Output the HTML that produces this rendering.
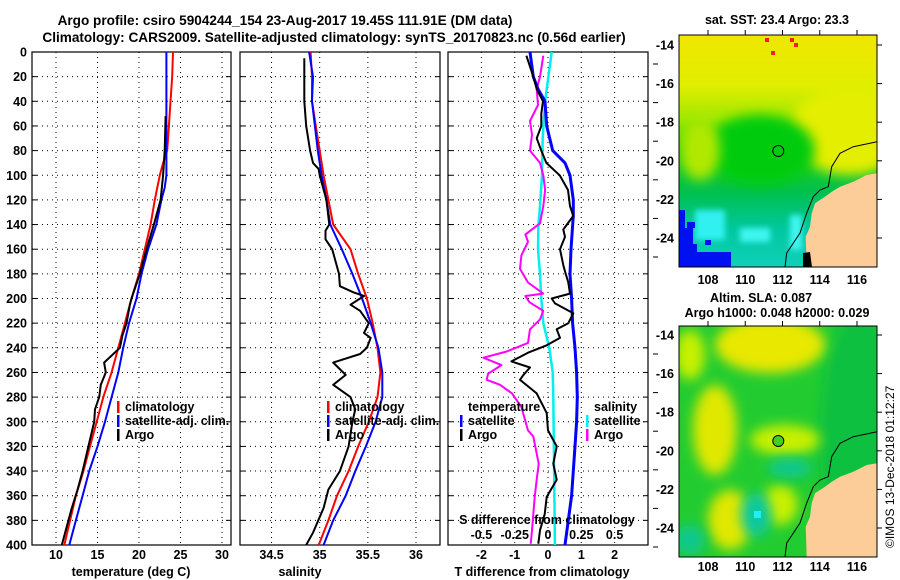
<!DOCTYPE html>
<html><head><meta charset="utf-8"><style>
html,body{margin:0;padding:0;background:#fff;}
svg{display:block;font-family:"Liberation Sans",sans-serif;font-weight:bold;}
</style></head><body>
<svg id="c" width="900" height="580" viewBox="0 0 900 580" xmlns="http://www.w3.org/2000/svg">
<defs>
<linearGradient id="sstg" x1="0" y1="0" x2="0" y2="1">
<stop offset="0" stop-color="#f0e600"/><stop offset="0.22" stop-color="#e0ee00"/><stop offset="0.36" stop-color="#a0e800"/><stop offset="0.5" stop-color="#20d010"/><stop offset="0.68" stop-color="#00c050"/><stop offset="0.84" stop-color="#00c8a0"/><stop offset="1" stop-color="#10d0b8"/>
</linearGradient>
<filter id="bl" x="-50%" y="-50%" width="200%" height="200%"><feGaussianBlur stdDeviation="6"/></filter>
<filter id="bl2" x="-50%" y="-50%" width="200%" height="200%"><feGaussianBlur stdDeviation="3"/></filter>
<clipPath id="m1c"><rect x="679" y="35" width="198" height="232"/></clipPath>
<clipPath id="m2c"><rect x="679" y="326" width="198" height="231"/></clipPath>
</defs>
<text x="285" y="25" text-anchor="middle" font-size="13.6">Argo profile: csiro 5904244_154 23-Aug-2017 19.45S 111.91E (DM data)</text>
<text x="334" y="42" text-anchor="middle" font-size="13.6">Climatology: CARS2009. Satellite-adjusted climatology: synTS_20170823.nc (0.56d earlier)</text>

<!-- Map 1 SST -->
<g clip-path="url(#m1c)">
<rect x="679" y="35" width="198" height="232" fill="url(#sstg)"/>
<ellipse cx="850" cy="130" rx="60" ry="45" fill="#e4ee00" filter="url(#bl)"/>
<ellipse cx="760" cy="150" rx="55" ry="35" fill="#00cc10" filter="url(#bl)"/>
<ellipse cx="700" cy="150" rx="20" ry="30" fill="#b0e800" filter="url(#bl)"/>
<rect x="695" y="210" width="30" height="30" fill="#30f0f0" filter="url(#bl2)"/>
<rect x="740" y="228" width="30" height="14" fill="#40f4f0" filter="url(#bl2)"/>
<rect x="790" y="215" width="12" height="35" fill="#40f4f0" filter="url(#bl2)"/>
<rect x="679" y="244" width="18" height="23" fill="#0010f0"/>
<rect x="697" y="252" width="34" height="15" fill="#0010f0"/>
<rect x="679" y="228" width="14" height="16" fill="#0010f0"/>
<rect x="679" y="210" width="6" height="18" fill="#0010f0"/>
<rect x="687" y="222" width="8" height="6" fill="#0010f0"/>
<rect x="705" y="240" width="6" height="5" fill="#0010f0"/>
<rect x="765" y="38" width="4" height="4" fill="#f02020"/>
<rect x="790" y="38" width="4" height="4" fill="#f02020"/>
<rect x="794" y="43" width="4" height="4" fill="#f02020"/>
<rect x="771" y="51" width="4" height="4" fill="#f02020"/>
</g>
<!-- Map 2 SLA -->
<g clip-path="url(#m2c)">
<rect x="679" y="326" width="198" height="231" fill="#22cc30"/>
<ellipse cx="860" cy="440" rx="40" ry="130" fill="#10c040" filter="url(#bl)"/>
<ellipse cx="770" cy="345" rx="55" ry="28" fill="#e8e800" filter="url(#bl)"/>
<ellipse cx="715" cy="430" rx="22" ry="45" fill="#e0e800" filter="url(#bl)"/>
<ellipse cx="690" cy="355" rx="15" ry="25" fill="#c8f000" filter="url(#bl)"/>
<ellipse cx="785" cy="440" rx="35" ry="15" fill="#c8f000" filter="url(#bl)"/>
<ellipse cx="730" cy="520" rx="22" ry="30" fill="#e0e800" filter="url(#bl)"/>
<ellipse cx="780" cy="505" rx="18" ry="20" fill="#c8f000" filter="url(#bl)"/>
<ellipse cx="756" cy="515" rx="15" ry="22" fill="#10c8a0" filter="url(#bl)"/>
<rect x="754" y="511" width="7" height="7" fill="#20f0f0"/>
<ellipse cx="790" cy="468" rx="22" ry="10" fill="#10c890" filter="url(#bl)"/>
<ellipse cx="690" cy="540" rx="15" ry="15" fill="#10c890" filter="url(#bl)"/>
</g>
<g id="land1">
<polygon points="806.7,267 805.7,236.7 810,226.7 811.7,213.3 815,203.3 825,196.7 831.7,191.7 840,186.7 853.3,181.7 866.7,175 877,173.3 877,267" fill="#fccc99"/>
<polygon points="803,267 803,253 810,252 812,267" fill="#000"/>
<polyline points="785,267 786.7,253 800,233 806.7,213 813.3,196.7 820,190 828.3,186.7 831.7,166.7 840,153.3 853.3,146.7 877,141.7" fill="none" stroke="#000" stroke-width="1"/>
</g>
<g transform="translate(0,290)">
<polygon points="806.7,267 805.7,236.7 810,226.7 811.7,213.3 815,203.3 825,196.7 831.7,191.7 840,186.7 853.3,181.7 866.7,175 877,173.3 877,267" fill="#fccc99"/>
<polyline points="785,267 786.7,253 800,233 806.7,213 813.3,196.7 820,190 828.3,186.7 831.7,166.7 840,153.3 853.3,146.7 877,141.7" fill="none" stroke="#000" stroke-width="1"/>
</g>
<rect x="679" y="35" width="198" height="232" fill="none" stroke="#000"/>
<rect x="679" y="326" width="198" height="231" fill="none" stroke="#000"/>
<circle cx="778.3" cy="151" r="5.5" fill="none" stroke="#000"/>
<circle cx="778.3" cy="441" r="5.5" fill="#40d020" stroke="#000"/>
<text x="777" y="24" text-anchor="middle" font-size="12.5">sat. SST: 23.4 Argo: 23.3</text>
<text x="761" y="302" text-anchor="middle" font-size="12.5">Altim. SLA: 0.087</text>
<text x="777" y="317" text-anchor="middle" font-size="12.5">Argo h1000: 0.048 h2000: 0.029</text>
<text transform="translate(894,548) rotate(-90)" font-size="12" font-weight="normal">©IMOS 13-Dec-2018 01:12:27</text>
<g id="plots"></g>
</svg>
<script>
// ---------- data ----------
const depthTicks = [0,20,40,60,80,100,120,140,160,180,200,220,240,260,280,300,320,340,360,380,400];
const tempTicks = [10,15,20,25,30];
const salTicks = [34.5,35,35.5,36];
const salTickLabels = ['34.5','35','35.5','36'];
const tdiffTicks = [-2,-1,0,1,2];
const sdiffTicks = [-0.5,-0.25,0,0.25,0.5];
const sdiffTickLabels = ['-0.5','-0.25','0','0.25','0.5'];

const climTempDepth = [0,20,40,60,80,90,100,120,140,160,180,200,220,240,260,280,300,320,340,360,380,400];
const climTemp =      [24.1,24.0,23.8,23.6,23.4,22.9,22.5,21.9,21.4,20.7,20.0,19.1,18.3,17.5,16.7,15.7,14.9,14.1,13.3,12.4,11.7,11.0];
const satTempDepth = [0,60,100,110,120,140,160,180,200,220,240,260,280,300,320,340,360,380,400];
const satTemp =      [23.3,23.3,23.3,23.1,22.7,22.1,21.1,20.3,19.7,18.8,18.1,17.5,16.7,15.9,15.0,14.0,13.2,12.4,11.6];
const argoTempDepth = [52,80,100,120,140,160,180,200,205,220,230,240,245,252,260,270,280,290,300,320,340,355,370,390,400];
const argoTemp =      [23.2,23.1,22.9,22.6,21.8,20.9,20.1,19.1,18.9,18.5,18.0,17.7,16.9,15.8,16.0,15.4,15.2,14.7,14.6,13.9,13.2,12.6,11.9,11.1,10.7];

const climSalDepth = [0,20,40,60,80,100,120,140,160,180,200,220,240,260,280,300,320,340,360,380,400];
const climSal =      [34.905,34.92,34.92,34.96,35.0,35.04,35.09,35.14,35.32,35.4,35.49,35.55,35.6,35.63,35.6,35.51,35.4,35.3,35.18,35.09,34.99];
const satSalDepth = [0,20,40,60,80,100,120,140,160,180,200,220,240,260,280,300,320,340,360,380,400];
const satSal =      [34.89,34.93,34.92,34.95,34.98,35.02,35.07,35.11,35.23,35.34,35.44,35.53,35.61,35.65,35.65,35.58,35.48,35.37,35.27,35.14,35.04];
const argoSalDepth = [5,40,60,80,90,95,100,120,140,145,152,160,180,190,195,198,205,210,220,228,232,240,245,252,262,270,280,290,300,320,340,355,370,390,400];
const argoSal =      [34.84,34.84,34.86,34.9,34.93,34.99,35.0,35.07,35.1,35.06,35.06,35.13,35.2,35.21,35.35,35.46,35.32,35.42,35.51,35.46,35.53,35.49,35.42,35.14,35.27,35.14,35.32,35.37,35.34,35.3,35.21,35.09,35.04,34.93,34.86];

const satTdiffDepth = [0,20,30,40,60,80,90,100,120,133,160,180,200,220,240,260,280,300,320,360,380,400];
const satTdiff =      [-0.54,-0.44,-0.3,-0.09,-0.04,0.14,0.51,0.66,0.76,0.76,0.69,0.66,0.71,0.74,0.81,0.86,0.88,0.86,0.81,0.71,0.61,0.51];
const argoTdiffDepth = [3,20,30,40,50,60,70,80,90,100,112,125,133,144,150,160,173,178,187,196,200,204,212,220,225,232,238,244,251,256,262,266,277,293,307,320,334,347,361,375,388,399];
const argoTdiff =      [-0.65,-0.44,-0.34,-0.15,-0.2,-0.2,-0.34,-0.2,-0.05,0.35,0.6,0.66,0.76,0.46,0.51,0.36,0.46,0.51,0.61,0.66,0.11,0.21,0.76,0.61,0.26,0.36,-0.04,-0.6,-1.1,-0.54,-0.74,-0.84,-0.34,-0.04,0.0,0.26,0.16,0.26,-0.04,-0.1,-0.24,-0.29];
const argoSdiffDepth = [3,20,30,43,56,67,80,90,100,112,125,139,148,154,165,176,187,196,198,203,210,217,225,236,243,248,254,261,266,270,277,288,307,312,334,347,361,375,388,399];
const argoSdiff =      [-0.035,-0.06,-0.085,-0.075,-0.135,-0.12,-0.135,-0.06,-0.035,-0.022,-0.035,-0.06,-0.17,-0.15,-0.2,-0.21,-0.15,-0.035,-0.17,-0.14,-0.035,-0.06,-0.135,-0.15,-0.31,-0.485,-0.35,-0.45,-0.46,-0.36,-0.27,-0.2,-0.15,-0.11,-0.07,-0.085,-0.1,-0.11,-0.12,-0.13];
const satSdiffDepth = [0,20,40,70,100,125,141,160,180,200,220,240,260,280,330,400];
const satSdiff =      [0.028,0.003,-0.022,-0.04,-0.045,-0.06,-0.072,-0.075,-0.06,-0.05,-0.035,0.01,0.035,0.04,0.045,0.052];

// ---------- drawing ----------
const NS='http://www.w3.org/2000/svg';
const root=document.getElementById('plots');
function mk(tag,attrs,parent){const e=document.createElementNS(NS,tag);for(const k in attrs)e.setAttribute(k,attrs[k]);(parent||root).appendChild(e);return e;}
const Y0=52,Y1=545;
const yS=d=>Y0+(d/400)*(Y1-Y0);
function lin(d0,d1,r0,r1){return v=>r0+(v-d0)/(d1-d0)*(r1-r0);}
const panels=[
 {name:'temperature-panel',x0:32,x1:231,x:lin(10,30,56,222),ticks:tempTicks,labels:tempTicks.map(String),xlabel:'temperature (deg C)',lx:131},
 {name:'salinity-panel',x0:240,x1:440,x:lin(35,36,319.7,416),ticks:salTicks,labels:salTickLabels,xlabel:'salinity',lx:300},
 {name:'difference-panel',x0:448,x1:648,x:lin(0,1,548,581.3),ticks:tdiffTicks,labels:tdiffTicks.map(String),xlabel:'T difference from climatology',lx:542}
];
panels.forEach(p=>{
 const g=mk('g',{});
 
 
 depthTicks.forEach(d=>{
  if(d>0&&d<400){const l=mk('line',{x1:p.x0,x2:p.x1,y1:yS(d),y2:yS(d),stroke:'#000','stroke-width':1,'stroke-dasharray':'1,4'},g);
   
   mk('line',{x1:p.x0,x2:p.x0+5,y1:yS(d),y2:yS(d),stroke:'#000'},g);
   mk('line',{x1:p.x1-5,x2:p.x1,y1:yS(d),y2:yS(d),stroke:'#000'},g);}
 });
 p.ticks.forEach((t,i)=>{
  const xx=p.x(t);
  const l=mk('line',{x1:xx,x2:xx,y1:Y0,y2:Y1,stroke:'#000','stroke-width':1,'stroke-dasharray':'1,4'},g);
  
  const tx=mk('text',{x:xx,y:559,'text-anchor':'middle','font-size':12.5},g);tx.textContent=p.labels[i];
  
 });
 const r=mk('rect',{x:p.x0,y:Y0,width:p.x1-p.x0,height:Y1-Y0,fill:'none',stroke:'#000','stroke-width':1.2},g);
 
 const xl=mk('text',{x:p.lx,y:576,'text-anchor':'middle','font-size':12.5},g);xl.textContent=p.xlabel;
 
 p.g=g;
});
depthTicks.forEach(d=>{
 const t=mk('text',{x:27,y:yS(d)+4.5,'text-anchor':'end','font-size':12.5});t.textContent=String(d);
 
});
function series(p,xs,ds,color,w,name,xf){
 const fx=xf||p.x;
 const pts=xs.map((v,i)=>fx(v).toFixed(1)+','+yS(ds[i]).toFixed(1)).join(' ');
 const pl=mk('polyline',{points:pts,fill:'none',stroke:color,'stroke-width':w,'stroke-linejoin':'round'},p.g);
 
 
}
const [P1,P2,P3]=panels;
series(P1,climTemp,climTempDepth,'#f00',2,'climatology-temperature-line');
series(P1,satTemp,satTempDepth,'#00f',2,'satellite-temperature-line');
series(P1,argoTemp,argoTempDepth,'#000',2,'argo-temperature-line');
series(P2,climSal,climSalDepth,'#f00',2,'climatology-salinity-line');
series(P2,satSal,satSalDepth,'#00f',2,'satellite-salinity-line');
series(P2,argoSal,argoSalDepth,'#000',2,'argo-salinity-line');
const sx=lin(0,0.25,548,581.3);
series(P3,satSdiff,satSdiffDepth,'#00f0f0',2.5,'satellite-salinity-diff-line',sx);
series(P3,argoSdiff,argoSdiffDepth,'#f0f',2,'argo-salinity-diff-line',sx);
series(P3,satTdiff,satTdiffDepth,'#00f',3,'satellite-temperature-diff-line');
series(P3,argoTdiff,argoTdiffDepth,'#000',2,'argo-temperature-diff-line');
// S axis labels
sdiffTicks.forEach((t,i)=>{const tx=mk('text',{x:sx(t),y:539,'text-anchor':'middle','font-size':12.5});tx.textContent=sdiffTickLabels[i];
 });
{const t=mk('text',{x:547,y:524,'text-anchor':'middle','font-size':12.5});t.textContent='S difference from climatology';
 }
// legends
function leg(x,y,color,label,name){
 const g=mk('g',{});
 
 
 if(color) mk('rect',{x:x-8,y:y-10,width:2.5,height:12,fill:color},g);
 const t=mk('text',{x:x,y:y,'font-size':12.5},g);t.textContent=label;
}
leg(125,411,'#f00','climatology','legend-entry-climatology');
leg(125,425,'#00f','satellite-adj. clim.','legend-entry-satellite-adj');
leg(125,439,'#000','Argo','legend-entry-argo');
leg(335,411,'#f00','climatology','legend-entry-climatology');
leg(335,425,'#00f','satellite-adj. clim.','legend-entry-satellite-adj');
leg(335,439,'#000','Argo','legend-entry-argo');
leg(468,411,null,'temperature','legend-title-temperature');
leg(468,425,'#00f','satellite','legend-entry-t-satellite');
leg(468,439,'#000','Argo','legend-entry-t-argo');
leg(594,411,null,'salinity','legend-title-salinity');
leg(594,425,'#00f0f0','satellite','legend-entry-s-satellite');
leg(594,439,'#f0f','Argo','legend-entry-s-argo');
// map axes
const lats=[-14,-16,-18,-20,-22,-24], lons=[108,110,112,114,116];
const mlon=lin(108,116,708,857), mlat=lin(-14,-24,45,238);
[0,290].forEach((off,k)=>{
 lats.forEach(l=>{const t=mk('text',{x:674,y:mlat(l)+off+4.5,'text-anchor':'end','font-size':12.5});t.textContent=String(l);
  
  mk('line',{x1:877,x2:882,y1:mlat(l)+off,y2:mlat(l)+off,stroke:'#000'});
  mk('line',{x1:653,x2:658,y1:mlat(l)+off+19,y2:mlat(l)+off+19,stroke:'#000'});});
 lons.forEach(l=>{const t=mk('text',{x:mlon(l),y:(k?571:284),'text-anchor':'middle','font-size':12.5});t.textContent=String(l);
  
  mk('line',{x1:mlon(l),x2:mlon(l),y1:(k?321:30),y2:(k?326:35),stroke:'#000'});});
});
</script>
</body></html>
